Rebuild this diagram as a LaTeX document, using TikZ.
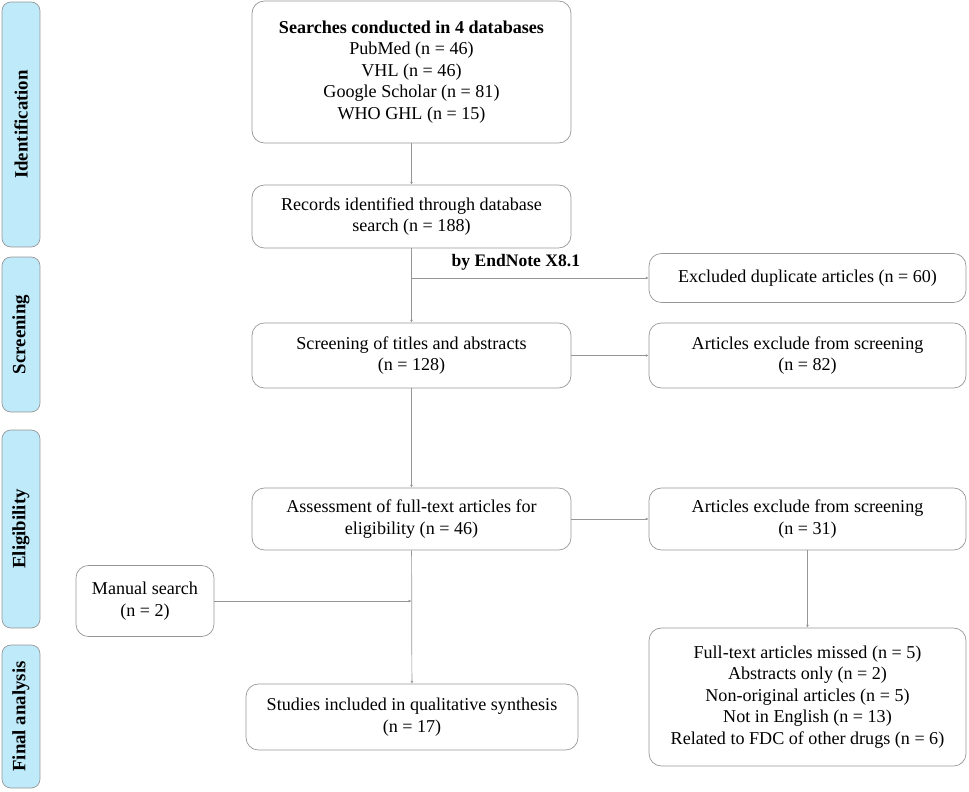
\documentclass[tikz,border=0pt]{standalone}
\usepackage{fontspec}
\setmainfont{Liberation Serif}
\usetikzlibrary{arrows.meta,positioning}

\definecolor{phase}{RGB}{190,234,250}
\definecolor{edge}{RGB}{150,150,150}

\begin{document}
\begin{tikzpicture}[x=0.02cm,y=-0.02cm,
    box/.style={draw=edge,rounded corners=7pt,align=center,font=\fontsize{10.3}{12.3}\selectfont,inner sep=0pt},
    phasebar/.style={draw=edge,fill=phase,rounded corners=5pt,minimum width=0.76cm,inner sep=0pt},
    phaselbl/.style={rotate=90,font=\fontsize{10.7}{12}\selectfont\bfseries},
    flow/.style={draw=edge,line width=0.4pt,-{Latex[length=1.6pt,width=1.6pt]}}]

  \useasboundingbox (0,0) rectangle (969,791);

  % Phases
  \node[phasebar,minimum height=4.9cm] (ident) at (21,124.5) {};
  \node[phaselbl] at (ident) {Identification};
  \node[phasebar,minimum height=3.1cm] (scr) at (21,334.5) {};
  \node[phaselbl] at (scr) {Screening};
  \node[phasebar,minimum height=3.96cm] (elig) at (21,529) {};
  \node[phaselbl] at (elig) {Eligibility};
  \node[phasebar,minimum height=2.86cm] (final) at (21,716.5) {};
  \node[phaselbl] at (final) {Final analysis};

  % Main column
  \node[box,minimum width=6.38cm,minimum height=2.84cm] (search) at (411.5,72)
    {\textbf{Searches conducted in 4 databases}\\PubMed (n = 46)\\VHL (n = 46)\\Google Scholar (n = 81)\\WHO GHL (n = 15)};
  \node[box,minimum width=6.38cm,minimum height=1.26cm] (records) at (411.5,216.5)
    {Records identified through database\\search (n = 188)};
  \node[box,minimum width=6.38cm,minimum height=1.3cm] (titles) at (411.5,355.5)
    {Screening of titles and abstracts\\(n = 128)};
  \node[box,minimum width=6.38cm,minimum height=1.24cm] (fulltext) at (411.5,519)
    {Assessment of full-text articles for\\eligibility (n = 46)};
  \node[box,minimum width=6.64cm,minimum height=1.32cm] (included) at (412,717)
    {Studies included in qualitative synthesis\\(n = 17)};
  \node[box,minimum width=2.76cm,minimum height=1.42cm] (manual) at (145,601)
    {Manual search\\(n = 2)};

  % Exclusions
  \node[box,minimum width=6.34cm,minimum height=0.98cm] (dupes) at (807.5,278)
    {Excluded duplicate articles (n = 60)};
  \node[box,minimum width=6.34cm,minimum height=1.3cm] (excl1) at (807.5,355.5)
    {Articles exclude from screening\\(n = 82)};
  \node[box,minimum width=6.34cm,minimum height=1.24cm] (excl2) at (807.5,519)
    {Articles exclude from screening\\(n = 31)};
  \node[box,minimum width=6.34cm,minimum height=2.76cm] (reasons) at (807.5,697)
    {Full-text articles missed (n = 5)\\Abstracts only (n = 2)\\Non-original articles (n = 5)\\Not in English (n = 13)\\Related to FDC of other drugs (n = 6)};

  % Connectors
  \coordinate (split) at (records.south |- dupes.west);
  \coordinate (join) at (fulltext.south |- manual.east);
  \draw[flow] (search) -- (records);
  \draw[flow] (records) -- (titles);
  \draw[flow] (split) -- node[pos=0.44,above=1pt,font=\fontsize{10}{12}\selectfont\bfseries] {by EndNote X8.1} (dupes.west);
  \draw[flow] (titles) -- (excl1);
  \draw[flow] (titles) -- (fulltext);
  \draw[flow] (fulltext) -- (excl2);
  \draw[flow] (fulltext) -- (included);
  \draw[flow] (manual) -- (join);
  \draw[flow] (excl2) -- (reasons);

\end{tikzpicture}
\end{document}
